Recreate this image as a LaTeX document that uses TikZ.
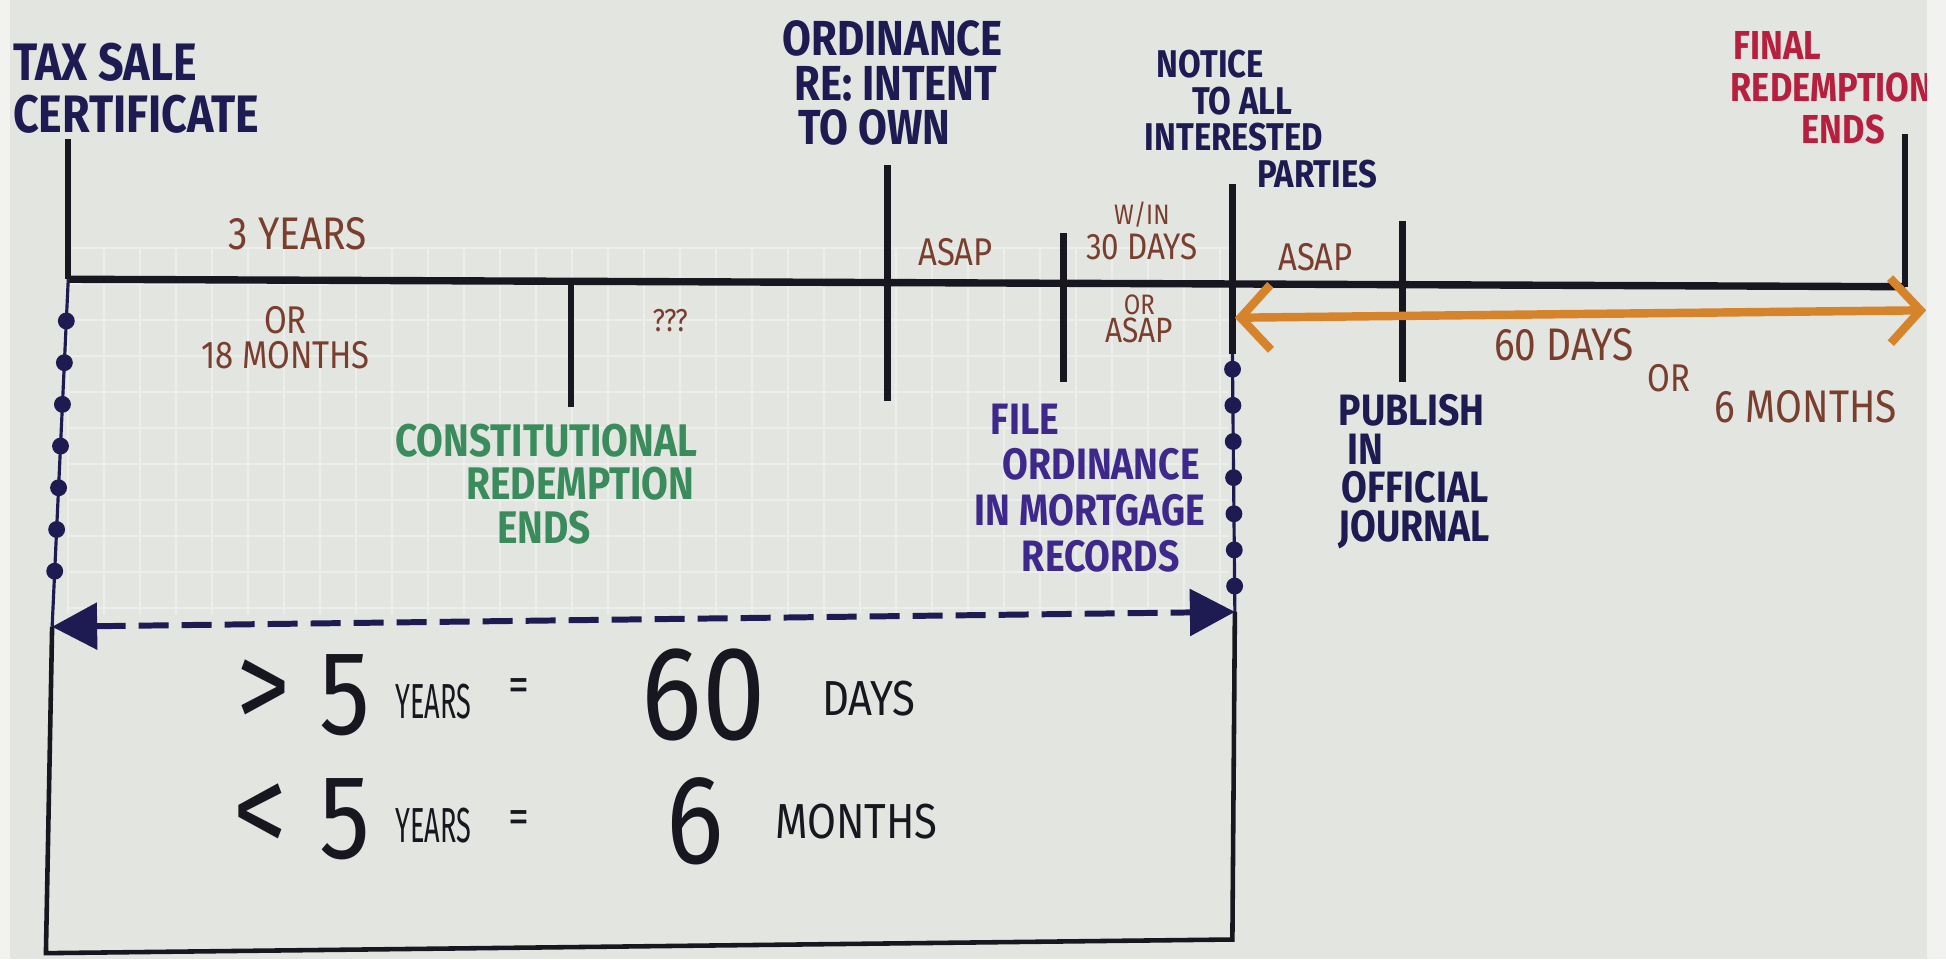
\documentclass[tikz,border=0pt]{standalone}
\usepackage{fontspec}
\setmainfont{Fira Sans}[FakeStretch=0.85]
\newfontfamily\narrowfont{Fira Sans}[FakeStretch=0.55]
\usetikzlibrary{positioning,arrows.meta,calc}

\definecolor{board}{RGB}{226,229,224}
\definecolor{ink}{RGB}{24,22,30}
\definecolor{navy}{RGB}{30,26,82}
\definecolor{violetink}{RGB}{62,40,140}
\definecolor{brownink}{RGB}{122,62,46}
\definecolor{greenink}{RGB}{58,140,92}
\definecolor{redink}{RGB}{182,32,62}
\definecolor{orangeink}{RGB}{214,132,44}

\tikzset{
  tline/.style={line width=2.1pt, ink},
  tick/.style={line width=1.8pt, ink},
  beads/.style={line width=0.9pt, navy},
  boxline/.style={line width=1.3pt, ink},
  gridline/.style={line width=0.5pt, white!35!board},
  lbl/.style={inner sep=0pt, align=left},
  note/.style={lbl, brownink, align=center},
  head/.style={lbl, font=\bfseries\fontsize{13}{12}\selectfont},
  big/.style={inner sep=0pt, ink},
}

\begin{document}
\begin{tikzpicture}[x=0.1241mm, y=-0.1241mm]
  % board
  \fill[board] (0,0) rectangle (1568,773);
  \useasboundingbox (0,0) rectangle (1568,773);
  \foreach \gx in {55,84,...,990} \draw[gridline] (\gx,200) -- (\gx,495);
  \foreach \gy in {200,229,...,495} \draw[gridline] (55,\gy) -- (990,\gy);

  % timeline points
  \coordinate (t0) at (55,225);
  \coordinate (t1) at (460,226);
  \coordinate (t2) at (715,227);
  \coordinate (t3) at (857,227);
  \coordinate (t4) at (993,228);
  \coordinate (t5) at (1130,229);
  \coordinate (t6) at (1535,231);
  \coordinate (t0top) at (55,112);
  \coordinate (t1bot) at (460,328);
  \coordinate (t2top) at (715,133);
  \coordinate (t2bot) at (715,323);
  \coordinate (t3top) at (857,188);
  \coordinate (t3bot) at (857,308);
  \coordinate (t4top) at (993,148);
  \coordinate (t4mid) at (993,285);
  \coordinate (t5top) at (1130,178);
  \coordinate (t5bot) at (1130,308);
  \coordinate (t6top) at (1535,108);

  \draw[tline] (t0) -- (t6);
  \draw[tick] (t0top) -- (t0);
  \draw[tick] (t1) -- (t1bot);
  \draw[tick] (t2top) -- (t2bot);
  \draw[tick] (t3top) -- (t3bot);
  \draw[tick] (t4top) -- (t4mid);
  \draw[tick] (t5top) -- (t5bot);
  \draw[tick] (t6top) -- (t6);

  % box under the timeline
  \coordinate (lb) at (42,505);
  \coordinate (lc) at (37,768);
  \coordinate (rb) at (995,493);
  \coordinate (rc) at (993,757);
  \draw[beads] (t0) -- (lb);
  \foreach \t in {0.12,0.24,...,0.9} \fill[navy] ($(t0)!\t!(lb)$) circle[radius=2.4pt];
  \draw[beads] (t4mid) -- (rb);
  \foreach \t in {0.06,0.2,...,0.9} \fill[navy] ($(t4mid)!\t!(rb)$) circle[radius=2.4pt];
  \draw[boxline] (lb) -- (lc) -- (rc) -- (rb);
  \draw[navy, line width=1.7pt, dash pattern=on 3mm off 1.3mm,
        {Triangle[length=4.5mm,width=4.6mm]}-{Triangle[length=4.5mm,width=4.6mm]}] (lb) -- (rb);

  % 60 days / 6 months span
  \coordinate (oa) at (995,256);
  \coordinate (ob) at (1552,250);
  \draw[orangeink, line width=2.4pt,
        {Straight Barb[length=3mm,width=6.5mm,line width=2.4pt]}-{Straight Barb[length=3mm,width=6.5mm,line width=2.4pt]}] (oa) -- (ob);

  % event labels
  \node[head, navy, font=\bfseries\fontsize{15}{15}\selectfont, anchor=west] (tsc) at (10,71)
    {TAX SALE\\CERTIFICATE};
  \node[head, navy, font=\bfseries\fontsize{14}{12.7}\selectfont, anchor=west] (ord) at (630,67)
    {ORDINANCE\\\hspace*{1.2mm}RE: INTENT\\\hspace*{1.6mm}TO OWN};
  \node[head, navy, font=\bfseries\fontsize{11}{10.4}\selectfont, anchor=west] (ntc) at (922,96)
    {\hspace*{1.2mm}NOTICE\\\hspace*{4.7mm}TO ALL\\INTERESTED\\\hspace*{11.2mm}PARTIES};
  \node[head, redink, font=\bfseries\fontsize{11.5}{12}\selectfont, anchor=west] (fin) at (1394,71)
    {\hspace*{0.3mm}FINAL\\REDEMPTION\\\hspace*{7.1mm}ENDS};
  \node[head, greenink, font=\bfseries\fontsize{13}{12.3}\selectfont, anchor=west] (con) at (318,390)
    {CONSTITUTIONAL\\\hspace*{7.1mm}REDEMPTION\\\hspace*{10.2mm}ENDS};
  \node[head, violetink, font=\bfseries\fontsize{12.5}{13}\selectfont, anchor=west] (fil) at (785,393)
    {\hspace*{1.6mm}FILE\\\hspace*{2.8mm}ORDINANCE\\IN MORTGAGE\\\hspace*{4.7mm}RECORDS};
  \node[head, navy, font=\bfseries\fontsize{12.5}{11}\selectfont, anchor=west] (pub) at (1078,380)
    {PUBLISH\\\hspace*{0.9mm}IN\\\hspace*{0.3mm}OFFICIAL\\JOURNAL};

  % interval notes
  \node[note, font=\fontsize{13}{14}\selectfont] (yrs) at (240,188) {3 YEARS};
  \node[note, font=\fontsize{11}{10}\selectfont] (mos) at (230,272) {OR\\18 MONTHS};
  \node[note, font=\fontsize{9}{10}\selectfont] (qqq) at (540,258) {???};
  \node[note, font=\fontsize{11}{12}\selectfont] (asapa) at (770,203) {ASAP};
  \node[note, font=\fontsize{10.5}{10}\selectfont] (win) at (920,186) {{\fontsize{8}{9}\selectfont W/IN}\\30 DAYS};
  \node[note, font=\fontsize{10}{8}\selectfont] (ora) at (918,257) {{\fontsize{8}{9}\selectfont OR}\\ASAP};
  \node[note, font=\fontsize{11}{12}\selectfont] (asapb) at (1060,207) {ASAP};
  \node[note, font=\fontsize{13}{14}\selectfont] (sxd) at (1260,278) {60 DAYS};
  \node[note, font=\fontsize{11}{12}\selectfont] (orb) at (1345,305) {OR};
  \node[note, font=\fontsize{13}{14}\selectfont] (sxm) at (1455,328) {6 MONTHS};

  % rule of thumb
  \node[big, font=\fontsize{36}{36}\selectfont] (gt) at (212,560) {>};
  \node[big, font=\fontsize{34}{34}\selectfont] (fva) at (278,560) {5};
  \node[big, font=\narrowfont\fontsize{14}{14}\selectfont] (yra) at (349,565) {YEARS};
  \node[big, font=\fontsize{14}{14}\selectfont] (eqa) at (418,556) {=};
  \node[big, font=\fontsize{38}{38}\selectfont] (sxa) at (567,560) {60};
  \node[big, font=\fontsize{14}{14}\selectfont] (dys) at (700,563) {DAYS};
  \node[big, font=\fontsize{36}{36}\selectfont] (lt) at (210,660) {<};
  \node[big, font=\fontsize{34}{34}\selectfont] (fvb) at (278,660) {5};
  \node[big, font=\narrowfont\fontsize{14}{14}\selectfont] (yrb) at (349,665) {YEARS};
  \node[big, font=\fontsize{14}{14}\selectfont] (eqb) at (418,662) {=};
  \node[big, font=\fontsize{36}{36}\selectfont] (sxb) at (560,662) {6};
  \node[big, font=\fontsize{14}{14}\selectfont] (mth) at (690,662) {MONTHS};

  % photo edges
  \fill[white!55!board] (0,0) rectangle (8,773);
  \fill[white!55!board] (1553,0) rectangle (1568,773);
\end{tikzpicture}
\end{document}
